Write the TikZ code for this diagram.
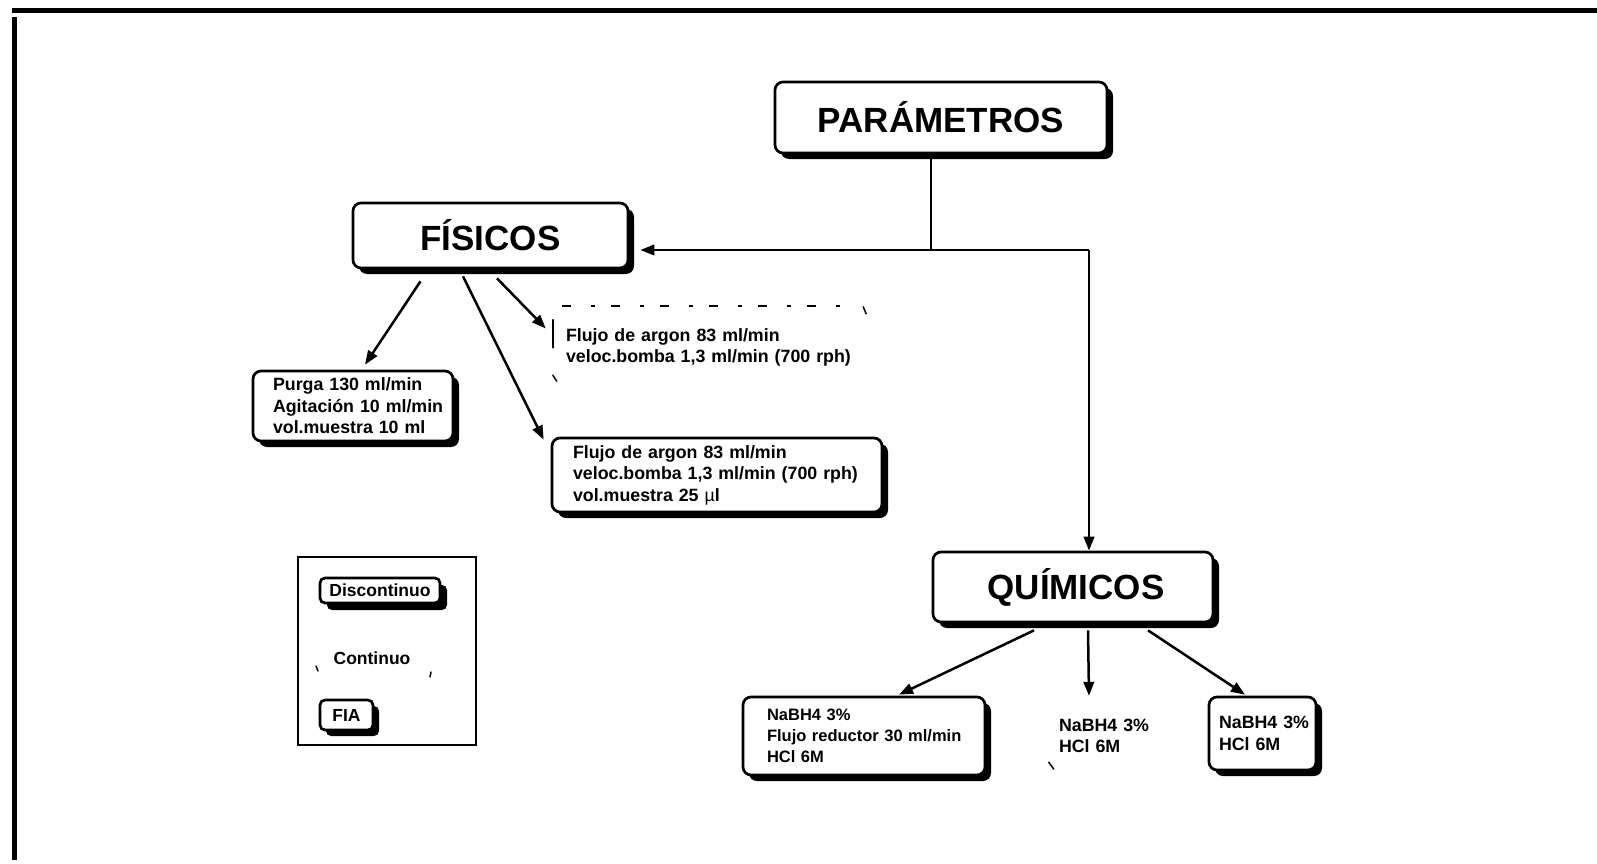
\documentclass[tikz,border=0pt]{standalone}
\usepackage{fontspec}
\setmainfont{Liberation Sans}
\usetikzlibrary{arrows.meta,shadows,calc}
\begin{document}
\begin{tikzpicture}[x=1pt,y=-1pt,
  bx/.style={draw, line width=2.7pt, rounded corners=8pt, fill=white},
  sh/.style={drop shadow={shadow xshift=#1,shadow yshift=-#1,opacity=1,fill=black}},
  title/.style={bx, sh=6pt, inner sep=0pt, font=\fontsize{35}{40}\selectfont\bfseries},
  txt/.style={font=\fontsize{17.8}{21.5}\selectfont\bfseries, align=left},
  txts/.style={font=\fontsize{16.5}{21}\selectfont\bfseries, align=left},
  sfont/.style={font=\fontsize{17.5}{21}\selectfont\bfseries},
  arr/.style={line width=2.5pt, -{Triangle[length=14pt,width=10.5pt]}},
  ln/.style={line width=2.5pt},
  tk/.style={line width=1.5pt, line cap=round}
]
\useasboundingbox (0,0) rectangle (1597,864);

% frame
\draw[line width=5pt] (12,10.5) -- (1597,10.5);
\draw[line width=5pt] (14.5,17) -- (14.5,860);

% main nodes
\node[title, minimum width=332pt, minimum height=71pt] (P) at (941,117.5) {PARÁMETROS};
\node[title, minimum width=275pt, minimum height=65pt] (F) at (490.5,235.5) {FÍSICOS};
\node[title, minimum width=280pt, minimum height=70pt] (Q) at (1073,587) {\hspace*{6pt}QUÍMICOS};

% physical parameter boxes
\node[bx, sh=6pt, txt, text width=160pt, inner xsep=20pt, inner ysep=0pt, minimum height=70pt] (Pu) at (353,406)
  {\mbox{Purga 130 ml/min}\\\mbox{Agitación 10 ml/min}\\\mbox{vol.muestra 10 ml}};
\node[txt, text width=287pt, inner xsep=13pt, inner ysep=0pt, minimum height=83pt] (B2) at (709.5,347.5)
  {\mbox{Flujo de argon 83 ml/min}\\\mbox{veloc.bomba 1,3 ml/min (700 rph)}};
\node[bx, sh=6pt, txt, text width=288pt, inner xsep=21pt, inner ysep=0pt, minimum height=74pt] (B3) at (717,475)
  {\mbox{Flujo de argon 83 ml/min}\\\mbox{veloc.bomba 1,3 ml/min (700 rph)}\\\mbox{vol.muestra 25 {\mdseries µ}l}};

% chemical parameter boxes
\node[bx, sh=6pt, txts, text width=194pt, inner xsep=24pt, inner ysep=0pt, minimum height=78pt] (A) at (864,736)
  {\mbox{NaBH4 3\%}\\\mbox{Flujo reductor 30 ml/min}\\\mbox{HCl 6M}};
\node[txt, text width=102pt, inner xsep=14pt, inner ysep=0pt, minimum height=78pt] (M) at (1110,736)
  {\mbox{NaBH4 3\%}\\\mbox{HCl 6M}};
\node[bx, sh=6pt, txt, text width=87pt, inner xsep=10pt, inner ysep=0pt, minimum height=73pt] (C) at (1262.5,733.5)
  {\mbox{NaBH4 3\%}\\\mbox{HCl 6M}};

% traces of the faint (continuous) borders
\draw[line width=2pt, dash pattern=on 9pt off 20pt on 4pt off 16pt] ([xshift=9pt]B2.north west) -- ([xshift=-22pt]B2.north east);
\draw[tk] ([yshift=-14pt]B2.north west) -- ([yshift=-42pt]B2.north west);
\draw[tk] ([yshift=14pt]B2.south west) -- ([xshift=4pt,yshift=8pt]B2.south west);
\draw[tk] ([xshift=-3pt,yshift=-1pt]B2.north east) -- ([yshift=-8pt]B2.north east);
\draw[tk] ([xshift=4pt,yshift=13pt]M.south west) -- ([xshift=9pt,yshift=6pt]M.south west);

% connectors
\coordinate (hub) at (931,250);
\coordinate (rc) at (1089,250);
\draw[ln] ([xshift=-10pt]P.south) -- (hub);
\draw[arr] (rc) -- ($(F.east |- rc)+(11,0)$);
\draw[arr] (rc) -- (rc |- Q.north);

\draw[arr] ([xshift=-70pt,yshift=-12pt]F.south) -- ([xshift=12pt,yshift=5pt]Pu.north);
\draw[arr] ([xshift=-27.5pt,yshift=-7pt]F.south) -- ([xshift=-7pt,yshift=-3pt]B3.north west);
\draw[arr] ([xshift=6.5pt,yshift=-9pt]F.south) -- ([xshift=-7pt,yshift=19pt]B2.west);

\draw[arr] ([xshift=-39pt,yshift=-7pt]Q.south) -- ([xshift=35pt,yshift=1pt]A.north);
\draw[arr] ([xshift=15pt,yshift=-7pt]Q.south) -- ([xshift=-21pt,yshift=1pt]M.north);
\draw[arr] ([xshift=75pt,yshift=-7pt]Q.south) -- ([xshift=-17.5pt,yshift=1pt]C.north);

% legend
\node[draw, line width=2.5pt, minimum width=178pt, minimum height=188pt, inner sep=0pt] (L) at (387,651) {};
\node[bx, sh=7pt, rounded corners=5pt, sfont, minimum width=120pt, minimum height=25pt, inner sep=0pt] (D) at (380,590.5) {Discontinuo};
\node[sfont] (Co) at (372,658) {Continuo};
\node[bx, sh=6pt, rounded corners=5pt, sfont, minimum width=53pt, minimum height=30pt, inner sep=0pt] (FI) at (346.5,715) {FIA};
\draw[tk] ([xshift=-56pt,yshift=-8pt]Co.center) -- ([xshift=-54pt,yshift=-13pt]Co.center);
\draw[tk] ([xshift=59pt,yshift=-14pt]Co.center) -- ([xshift=58pt,yshift=-19pt]Co.center);
\end{tikzpicture}
\end{document}
